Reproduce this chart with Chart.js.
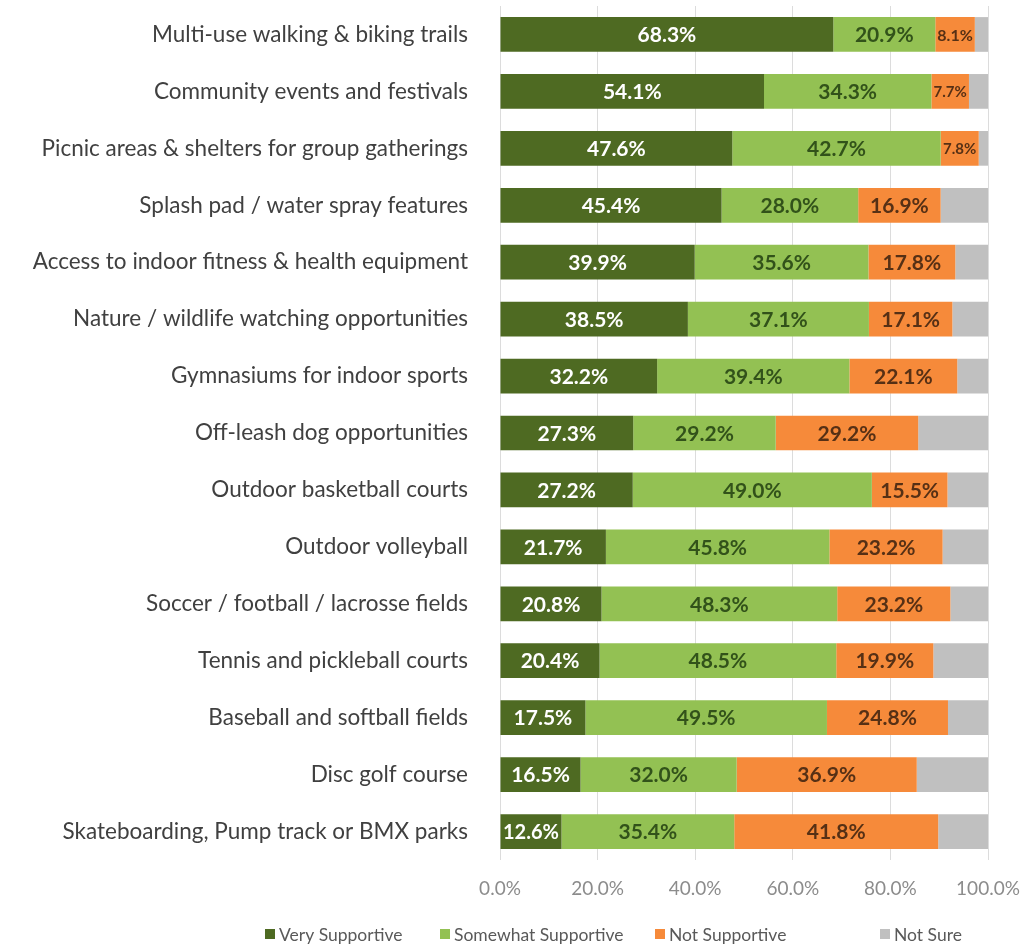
<!DOCTYPE html>
<html>
<head>
<meta charset="utf-8">
<script src="https://cdn.jsdelivr.net/npm/chart.js@4.4.1/dist/chart.umd.min.js"></script>
<style>
  html, body { margin: 0; padding: 0; background: #ffffff; }
  #wrap { width: 1025px; height: 946px; position: relative; }
</style>
</head>
<body>
<div id="wrap"><canvas id="chart"></canvas></div>
<script>
const categories = [
  'Multi-use walking & biking trails',
  'Community events and festivals',
  'Picnic areas & shelters for group gatherings',
  'Splash pad / water spray features',
  'Access to indoor fitness & health equipment',
  'Nature / wildlife watching opportunities',
  'Gymnasiums for indoor sports',
  'Off-leash dog opportunities',
  'Outdoor basketball courts',
  'Outdoor volleyball',
  'Soccer / football / lacrosse fields',
  'Tennis and pickleball courts',
  'Baseball and softball fields',
  'Disc golf course',
  'Skateboarding, Pump track or BMX parks'
];

const verySupportive = [68.3, 54.1, 47.6, 45.4, 39.9, 38.5, 32.2, 27.3, 27.2, 21.7, 20.8, 20.4, 17.5, 16.5, 12.6];
const somewhatSupportive = [20.9, 34.3, 42.7, 28.0, 35.6, 37.1, 39.4, 29.2, 49.0, 45.8, 48.3, 48.5, 49.5, 32.0, 35.4];
const notSupportive = [8.1, 7.7, 7.8, 16.9, 17.8, 17.1, 22.1, 29.2, 15.5, 23.2, 23.2, 19.9, 24.8, 36.9, 41.8];
const notSure = [2.7, 3.9, 1.9, 9.7, 6.7, 7.3, 6.3, 14.3, 8.3, 9.3, 7.7, 11.2, 8.2, 14.6, 10.2];

const seriesNames = ['Very Supportive', 'Somewhat Supportive', 'Not Supportive', 'Not Sure'];
const xTicks = [0, 20, 40, 60, 80, 100];

const FONT = 'Lato, "Liberation Sans", sans-serif';

// segment labels, centred in each bar piece; shrink text for narrow pieces
const barLabels = {
  id: 'barLabels',
  afterDatasetsDraw(chart) {
    const ctx = chart.ctx;
    ctx.save();
    ctx.textAlign = 'center';
    ctx.textBaseline = 'middle';
    chart.data.datasets.forEach((ds, di) => {
      if (!ds.labelColor) return;
      const meta = chart.getDatasetMeta(di);
      meta.data.forEach((bar, i) => {
        const txt = ds.data[i].toFixed(1) + '%';
        const w = Math.abs(bar.x - bar.base);
        let size = 21;
        ctx.font = 'bold ' + size + 'px ' + FONT;
        while (ctx.measureText(txt).width > w - 4 && size > 9) {
          size -= 1;
          ctx.font = 'bold ' + size + 'px ' + FONT;
        }
        ctx.fillStyle = ds.labelColor;
        ctx.fillText(txt, (bar.x + bar.base) / 2, bar.y + 1);
      });
    });
    ctx.restore();
  }
};

// legend row under the axis
const bottomLegend = {
  id: 'bottomLegend',
  afterDraw(chart) {
    const ctx = chart.ctx;
    const items = [265, 440, 655, 880];
    const y = 934;
    ctx.save();
    ctx.font = '17.5px ' + FONT;
    ctx.textBaseline = 'middle';
    ctx.textAlign = 'left';
    chart.data.datasets.forEach((ds, di) => {
      const x = items[di];
      ctx.fillStyle = ds.backgroundColor;
      ctx.fillRect(x, y - 5, 10, 10);
      ctx.fillStyle = '#595959';
      ctx.fillText(ds.label, x + 14, y + 1);
    });
    ctx.restore();
  }
};

new Chart(document.getElementById('chart'), {
  type: 'bar',
  data: {
    labels: categories,
    datasets: [
      { label: seriesNames[0], data: verySupportive, backgroundColor: '#4e6a22', labelColor: '#ffffff' },
      { label: seriesNames[1], data: somewhatSupportive, backgroundColor: '#93c153', labelColor: '#32521a' },
      { label: seriesNames[2], data: notSupportive, backgroundColor: '#f68a3a', labelColor: '#563015' },
      { label: seriesNames[3], data: notSure, backgroundColor: '#c0c0c0' }
    ]
  },
  options: {
    indexAxis: 'y',
    responsive: true,
    maintainAspectRatio: false,
    animation: false,
    barPercentage: 0.61,
    categoryPercentage: 1,
    layout: { padding: { top: 6, right: 37, bottom: 50, left: 0 } },
    plugins: {
      legend: { display: false },
      tooltip: { enabled: false }
    },
    scales: {
      x: {
        stacked: true,
        min: 0,
        max: 100,
        afterBuildTicks(axis) {
          axis.ticks = xTicks.map(v => ({ value: v }));
        },
        afterFit(axis) {
          axis.height = 36;
          axis.paddingLeft = 0;
          axis.paddingRight = 0;
        },
        grid: { color: '#dcdcdc', drawTicks: false },
        border: { display: false },
        ticks: {
          padding: 17,
          color: '#8c8c8c',
          font: { family: FONT, size: 19 },
          callback: v => v.toFixed(1) + '%'
        }
      },
      y: {
        stacked: true,
        afterFit(axis) {
          axis.width = 500;
          axis.paddingTop = 0;
          axis.paddingBottom = 0;
        },
        grid: { display: false },
        border: { display: false },
        ticks: {
          padding: 24,
          color: '#404040',
          font: { family: FONT, size: 22.5 }
        }
      }
    }
  },
  plugins: [barLabels, bottomLegend]
});
</script>
</body>
</html>
